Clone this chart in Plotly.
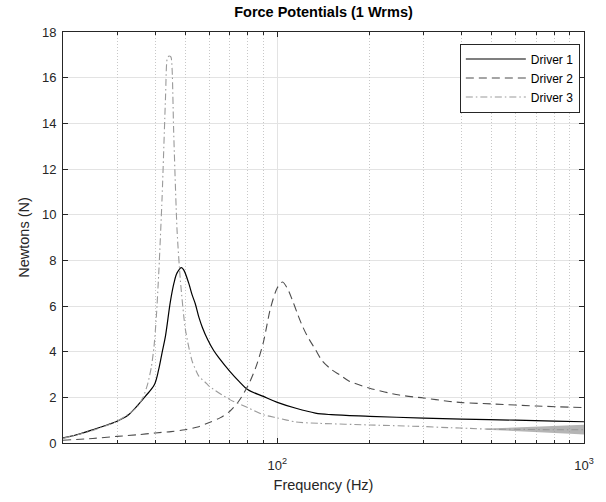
import math
import plotly.graph_objects as go

# ---- data ----
d1_freq = [20, 22, 25, 28, 30, 32.5, 34.4, 37.1, 39.7, 41.0, 42.06, 43.15, 44.8, 46, 47.1, 48.7, 49.6, 51.4, 52.7, 54, 55.5, 57, 59.3, 62, 64.5, 70, 75, 80, 90, 100, 115, 133, 150, 200, 300, 400, 600, 800, 1000]
d1_vals = [0.22, 0.35, 0.58, 0.80, 0.95, 1.2, 1.53, 2.04, 2.55, 3.2, 3.94, 4.67, 6.2, 7.0, 7.45, 7.68, 7.56, 7.0, 6.5, 6.1, 5.5, 5.05, 4.52, 4.05, 3.73, 3.14, 2.7, 2.34, 2.04, 1.78, 1.52, 1.31, 1.24, 1.17, 1.09, 1.05, 1.0, 0.96, 0.93]

d2_freq = [20, 25, 30, 35, 40, 45, 50, 55, 60, 65, 70, 75, 80, 85, 90, 95, 100, 104, 108, 112, 116, 120, 125, 133, 140, 150, 160, 171, 200, 250, 300, 365, 400, 500, 700, 1000]
d2_vals = [0.12, 0.2, 0.29, 0.36, 0.44, 0.5, 0.58, 0.7, 0.9, 1.1, 1.39, 1.85, 2.48, 3.3, 4.4, 5.9, 6.8, 7.05, 6.75, 6.25, 5.7, 5.2, 4.7, 4.1, 3.6, 3.22, 2.98, 2.72, 2.4, 2.1, 1.97, 1.82, 1.77, 1.71, 1.62, 1.55]

d3_freq = [20, 25, 30, 33, 35, 36.5, 37.8, 38.8, 39.6, 40.3, 41.1, 42.1, 43.2, 43.7, 44.3, 45.0, 45.4, 45.9, 47.1, 48.3, 50.1, 52.7, 55.5, 58.3, 60, 70, 80, 90, 100, 115, 137, 200, 300, 365, 423, 505, 600, 800, 1000]
d3_vals = [0.2, 0.55, 0.95, 1.3, 1.6, 2.0, 2.6, 3.3, 4.2, 5.5, 7.6, 10.8, 15.2, 16.8, 16.95, 16.9, 16.3, 13.7, 9.3, 7.1, 5.0, 3.6, 2.92, 2.65, 2.48, 1.9, 1.55, 1.24, 1.1, 0.92, 0.86, 0.79, 0.72, 0.67, 0.64, 0.6, 0.6, 0.58, 0.58]

# noisy envelope of Driver 3 at high frequency
d3_noise_freq = [480, 550, 620, 700, 800, 900, 1000]
d3_noise_lo = [0.58, 0.55, 0.52, 0.48, 0.45, 0.41, 0.37]
d3_noise_hi = [0.63, 0.66, 0.69, 0.71, 0.74, 0.77, 0.80]

x_major_ticks = [100, 1000]
x_major_text = ["10<sup>2</sup>", "10<sup>3</sup>"]
x_minor_ticks = [20, 30, 40, 50, 60, 70, 80, 90, 200, 300, 400, 500, 600, 700, 800, 900]
y_ticks = [0, 2, 4, 6, 8, 10, 12, 14, 16, 18]

FONT = "Liberation Sans, Arial, Helvetica, sans-serif"
AX = "#262626"

fig = go.Figure()

fig.add_trace(go.Scatter(x=d1_freq, y=d1_vals, mode="lines", name="Driver 1",
                         line=dict(color="#000000", width=1.2, shape="spline", smoothing=1.0)))
fig.add_trace(go.Scatter(x=d2_freq, y=d2_vals, mode="lines", name="Driver 2",
                         line=dict(color="#4d4d4d", width=1.1, dash="8px,5px", shape="spline", smoothing=0.8)))
fig.add_trace(go.Scatter(x=d3_freq, y=d3_vals, mode="lines", name="Driver 3",
                         line=dict(color="#9a9a9a", width=1.1, dash="7px,3px,1.5px,3px", shape="spline", smoothing=0.6)))

fig.add_trace(go.Scatter(x=d3_noise_freq, y=d3_noise_lo, mode="lines",
                         line=dict(width=0, color="rgba(150,150,150,0)"),
                         showlegend=False, hoverinfo="skip"))
fig.add_trace(go.Scatter(x=d3_noise_freq, y=d3_noise_hi, mode="lines",
                         line=dict(width=0, color="rgba(150,150,150,0)"),
                         fill="tonexty", fillcolor="rgba(150,150,150,0.7)",
                         showlegend=False, hoverinfo="skip"))

# invisible trace to activate the minor-grid overlay axis
fig.add_trace(go.Scatter(x=[100], y=[0], xaxis="x2", mode="markers",
                         marker=dict(opacity=0), showlegend=False, hoverinfo="skip"))

xr = [math.log10(20), 3]

fig.update_layout(
    width=606, height=502,
    margin=dict(l=63, r=22, t=32, b=59, autoexpand=False),
    paper_bgcolor="white", plot_bgcolor="white",
    font=dict(family=FONT, size=13, color=AX),
    title=dict(text="<b>Force Potentials (1 Wrms)</b>", x=0.5, xref="paper", xanchor="center",
               y=1, yref="paper", yanchor="bottom", pad=dict(b=15),
               font=dict(family=FONT, size=14.5, color="#000000")),
    xaxis=dict(type="log", range=xr, tickmode="array", tickvals=x_major_ticks, ticktext=x_major_text,
               ticks="inside", ticklen=5, tickcolor=AX, showline=True, linecolor=AX, linewidth=1,
               mirror="ticks", showgrid=True, gridcolor="#e3e3e3", gridwidth=1, zeroline=False,
               tickfont=dict(size=13, color=AX), ticklabelstandoff=10,
               title=dict(text="Frequency (Hz)", font=dict(size=14.5, color=AX), standoff=8)),
    xaxis2=dict(type="log", range=xr, overlaying="x", side="bottom", tickmode="array",
                tickvals=x_minor_ticks, showticklabels=False, ticks="inside", ticklen=3,
                tickcolor=AX, mirror="ticks", showline=False, showgrid=True,
                gridcolor="#c8c8c8", griddash="1px,2px", gridwidth=1, zeroline=False),
    yaxis=dict(range=[0, 18], tickmode="array", tickvals=y_ticks,
               ticks="inside", ticklen=5, tickcolor=AX, showline=True, linecolor=AX, linewidth=1,
               mirror="ticks", showgrid=True, gridcolor="#e3e3e3", gridwidth=1, zeroline=False,
               tickfont=dict(size=13, color=AX), ticklabelstandoff=3,
               title=dict(text="Newtons (N)", font=dict(size=14.5, color=AX), standoff=8)),
    legend=dict(x=0.992, xanchor="right", y=0.972, yanchor="top", traceorder="normal",
                bgcolor="white", bordercolor=AX, borderwidth=1,
                font=dict(family=FONT, size=12, color="#000000"),
                tracegroupgap=0, itemwidth=60),
    showlegend=True,
)

fig.write_html("out.html", config={"displayModeBar": False},
               post_script="document.body.style.margin='0';document.body.style.overflow='hidden';")
